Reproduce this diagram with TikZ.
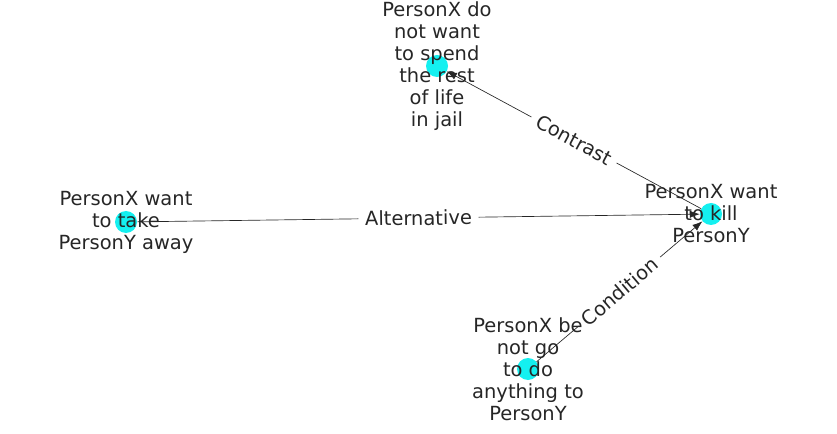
\documentclass[tikz,border=0pt]{standalone}
\usepackage{fontspec}
\setmainfont{DejaVu Sans}
\usetikzlibrary{arrows.meta}
\definecolor{aqua}{RGB}{20,240,240}
\tikzset{
  pt/.style={circle, fill=aqua, inner sep=0pt, minimum size=16.5pt},
  lbl/.style={align=center, text=black!85, font=\fontsize{14.6}{16.5}\selectfont},
  rel/.style={-{Latex[length=7.5pt,width=5.5pt]}, line width=0.5pt, black!85},
  tag/.style={midway, sloped, fill=white, inner xsep=5pt, inner ysep=3pt, text=black!85, font=\fontsize{14.6}{16.5}\selectfont}
}
\begin{document}
\begin{tikzpicture}[x=0.75pt, y=-0.75pt]
\useasboundingbox (0,0) rectangle (837,434);
\node[pt] (P_jail) at (437,66) {};
\node[pt] (P_take) at (126,222) {};
\node[pt] (P_kill) at (711,214) {};
\node[pt] (P_go) at (528,369) {};
\draw[rel] (P_kill) -- (P_jail) node[tag] {Contrast};
\draw[rel] (P_take) -- (P_kill) node[tag] {Alternative};
\draw[rel] (P_go) -- (P_kill) node[tag] {Condition};
\node[lbl] at (P_jail) {PersonX do\\not want\\to spend\\the rest\\of life\\in jail};
\node[lbl] at (P_take) {PersonX want\\to take\\PersonY away};
\node[lbl] at (P_kill) {PersonX want\\to kill\\PersonY};
\node[lbl] at (P_go) {PersonX be\\not go\\to do\\anything to\\PersonY};
\end{tikzpicture}
\end{document}
